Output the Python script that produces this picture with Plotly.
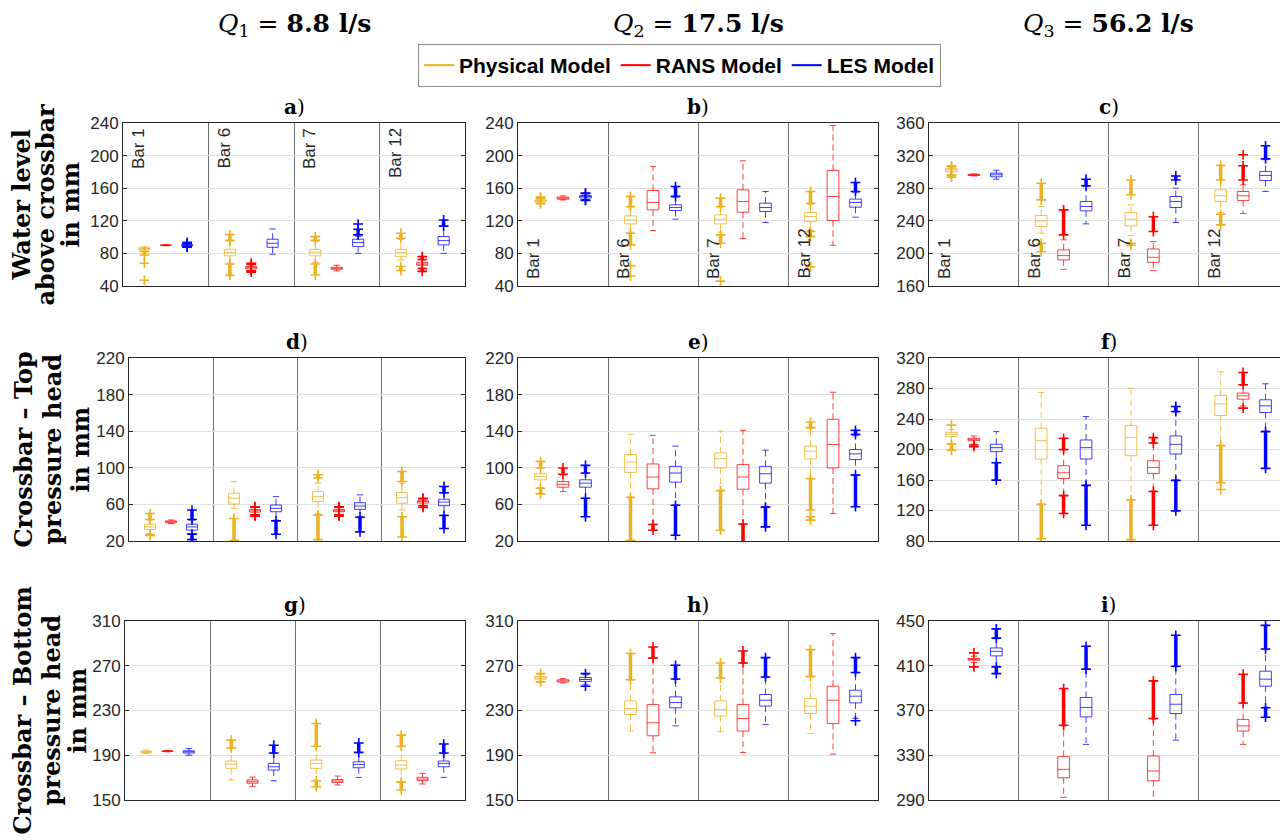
import plotly.graph_objects as go

W, H = 1288, 840          # browser window / reference picture
OFF = 8                   # page body margin: figure starts at (8, 8)
FW, FH = W - OFF, H - OFF  # figure size so it ends at the window edge

# ---------------- data ----------------
bar_labels = ["Bar 1", "Bar 6", "Bar 7", "Bar 12"]
model_names = ["Physical Model", "RANS Model", "LES Model"]
flow_labels = ["8.8 l/s", "17.5 l/s", "56.2 l/s"]
panel_letters = ["a", "b", "c", "d", "e", "f", "g", "h", "i"]
row_labels = [
    ["Water level", "above crossbar", "in mm"],
    ["Crossbar \u2013 Top", "pressure head", "in mm"],
    ["Crossbar \u2013 Bottom", "pressure head", "in mm"],
]
y_ranges = [[40, 240], [40, 240], [160, 360],
            [20, 220], [20, 220], [80, 320],
            [150, 310], [150, 310], [290, 450]]
y_tick_step = 40

# stats per bar: [lower whisker, q1, median, q3, upper whisker]
# outliers per bar: (start, end) ranges of dense outliers, (value,) single points
a_phys = [[83, 85, 86, 87, 88], [68, 77, 81, 85, 95], [69, 77, 81.4, 85, 95], [72, 76, 81, 85, 97]]
a_phys_out = [[(78, 82.5), (68,), (47,)], [(53, 67), (96, 103)], [(53.5, 67), (96, 100.6)], [(59, 64), (98.6, 104.8)]]
a_rans = [[89.3, 89.7, 90, 90.3, 90.7], [59, 61, 62.5, 64, 66], [58.5, 60.5, 61.7, 63, 65.5], [62, 65.5, 67, 69, 72]]
a_rans_out = [[], [(57, 58.5), (66.5, 68)], [], [(58, 61.5), (72.5, 76)]]
a_les = [[88.5, 89.3, 90, 90.7, 91.5], [79, 87.5, 92.5, 97.4, 110], [80, 88.4, 93.3, 97.4, 101], [80, 90.4, 95.7, 100.7, 113]]
a_les_out = [[(92, 93.5), (87.5, 88)], [], [(102.7, 109.7), (116,)], [(113.5, 121)]]

b_phys = [[142, 143.5, 144.5, 145.5, 147], [106, 116.2, 121, 126, 136], [106, 116.2, 122, 127.3, 136], [108, 119, 125.2, 130.2, 140]]
b_phys_out = [[(141, 141.5), (147.5, 149)], [(137.5, 150), (90.4, 104.8), (64.6,), (52.3,)], [(137.5, 147.8), (92.5, 102.7), (46,)], [(141.6, 156), (100.6, 106.8), (63.8,)]]
b_rans = [[145.5, 146.5, 147.8, 149, 150.5], [108, 133.4, 142.5, 157.2, 186.7], [98.2, 130.6, 143.7, 158, 193.7], [90, 120.3, 149.8, 181.8, 237]]
b_rans_out = [[], [], [], []]
b_les = [[146, 148, 149.8, 151, 153], [122, 132.6, 136.3, 139.6, 149], [117.9, 131.4, 136.3, 141.6, 156], [124.4, 136.7, 142.5, 146.6, 155]]
b_les_out = [[(153.5, 154), (145, 145.5)], [(150, 162)], [], [(156, 167)]]

c_phys = [[297, 300, 302.6, 304, 306], [224.8, 233, 240, 246.5, 257.5], [222, 233.8, 242, 250, 259.6], [250, 263.7, 270.7, 278, 290]]
c_phys_out = [[(293.6, 296), (306.5, 307.5)], [(265.7, 286), (202, 212.5)], [(272, 290), (210, 212.5)], [(290, 308), (235, 248)]]
c_rans = [[295, 295.6, 296.3, 297, 297.6], [180.5, 192, 197.3, 204.3, 216.6], [178.9, 189, 195.2, 205.5, 214.5], [249, 265, 270.7, 276, 284]]
c_rans_out = [[], [(222.7, 253.4)], [(226.8, 245)], [(290, 307.5), (321,)]]
c_les = [[291, 294, 296.5, 298.5, 302], [236.2, 252.2, 257.5, 263.7, 282], [237.9, 256.3, 263.7, 269.8, 280], [276, 289.5, 295.7, 300.6, 315]]
c_les_out = [[], [(283, 291)], [(290, 295)], [(316, 332)]]

d_phys = [[28, 32.5, 35.4, 38.4, 42.8], [55.7, 60.4, 66.7, 72.2, 85], [50, 63, 68.5, 74, 83.2], [53.8, 61.2, 67.4, 73, 83.2]]
d_phys_out = [[(43.5, 50), (26, 27)], [(20.7, 44.6)], [(88.8, 92.4), (21.5, 48.3)], [(85, 96), (24.4, 46.5)]]
d_rans = [[39, 40, 41, 42, 43], [49, 51.5, 53, 54.5, 56.5], [49, 52, 53, 54.5, 56.5], [59, 61.5, 63, 64, 66]]
d_rans_out = [[], [(47.2, 48.5), (57, 57.5)], [(47.2, 48.5), (57, 57.5)], [(56.8, 58.5), (66.2, 66.7)]]
d_les = [[28, 31.8, 35.4, 38.4, 42.8], [42.8, 52, 55.7, 59.3, 68.5], [46.5, 54.6, 58.2, 61.9, 70.4], [48.3, 58.6, 62.6, 65.6, 72.2]]
d_les_out = [[(43.5, 53.8), (21.5, 27.5)], [(27.4, 42)], [(30, 46)], [(72.8, 79.6), (33.6, 47.8)]]

e_phys = [[78.5, 86.9, 90.6, 93.5, 99], [68.5, 95, 106.4, 114.5, 136.5], [75.9, 99.8, 110, 116.3, 140.2], [88.8, 109.7, 118.2, 123.7, 143]]
e_phys_out = [[(99.8, 107), (71.5, 77.7)], [(20.7, 67.5)], [(31.8, 75)], [(143.9, 150), (53.8, 88), (42.8, 46.5)]]
e_rans = [[74, 78.8, 82, 85, 92], [38.4, 77, 89.9, 104.2, 135.4], [39, 76.6, 89.9, 103.5, 141], [50, 99.8, 125.5, 153, 182.5]]
e_rans_out = [[(93, 99.8)], [(31.8, 38)], [(18, 38.5)], []]
e_les = [[67, 78.8, 83.2, 86.9, 94], [59.3, 84.3, 94.3, 101.6, 123.7], [57.5, 83.2, 93.5, 101.6, 119.3], [92.4, 109, 115.2, 120, 135]]
e_les_out = [[(94.3, 102.7), (46.5, 66.7)], [(26.3, 59)], [(35.4, 57)], [(136.5, 141), (57.5, 92)]]

f_phys = [[208, 216.9, 220, 222.6, 226], [129, 187.5, 211.6, 227.9, 274.8], [134.4, 191.9, 216, 231.4, 280.5], [206, 244.5, 259.9, 270.9, 302]]
f_phys_out = [[(232,), (199, 207)], [(83, 128)], [(81.8, 134)], [(156.3, 205), (147.6,)]]
f_rans = [[207, 211.6, 213.4, 214.7, 217.8], [140, 162, 169.5, 178.7, 199.3], [145.8, 168.6, 176.5, 185.3, 208], [257, 266, 270.4, 274, 284]]
f_rans_out = [[(203.7, 206)], [(200, 214.7), (116, 139.5)], [(208.5, 215.6), (100.6, 145)], [(285, 301), (254.2,)]]
f_les = [[183, 197.2, 202.4, 206.8, 223.5], [153.3, 187.5, 202.4, 212.5, 243.2], [160, 194.1, 206.8, 217.8, 249], [224, 248.5, 257.3, 265.2, 286.2]]
f_les_out = [[(159.9, 182.7)], [(100.6, 153)], [(249.8, 256.4), (119.5, 159.5)], [(175.2, 223.5)]]

g_phys = [[191.5, 192.5, 193.1, 193.7, 194.6], [167.8, 178.3, 182.1, 184.8, 196], [167.8, 178.3, 182.7, 185.7, 197.6], [166.4, 177.7, 181.2, 185.1, 197.6]]
g_phys_out = [[], [(196.5, 203.5)], [(198, 218.4), (161.9, 167)], [(198, 208), (159, 166)]]
g_rans = [[193, 193.4, 193.7, 194, 194.3], [162, 165, 166.4, 168, 170.5], [163.4, 165.7, 167, 168.3, 171.4], [164.3, 167.3, 168.7, 170.3, 173.8]]
g_rans_out = [[], [], [], []]
g_les = [[190, 192, 193.1, 194, 196], [167.2, 176.8, 179.7, 182.7, 191.6], [170.2, 178.8, 181.8, 184.2, 192.2], [170.2, 179.7, 182.7, 184.8, 191.6]]
g_les_out = [[], [(192, 199)], [(192.6, 201)], [(192, 200)]]

h_phys = [[256, 258, 259.1, 260.5, 262.5], [211.6, 226.4, 231.8, 238.6, 257], [211, 225, 231, 238.6, 258.5], [209.5, 227.3, 233.9, 240.7, 260]]
h_phys_out = [[(255.6,), (263,)], [(257.5, 280.9)], [(259, 272.5)], [(260.5, 284.4)]]
h_rans = [[254.7, 255.5, 256.5, 257.5, 258.5], [192.2, 207.4, 219, 235.4, 276.4], [192.5, 211.6, 222.9, 235.4, 272], [191, 218.4, 239.2, 251.7, 298.7]]
h_rans_out = [[], [(276.8, 286.8)], [(272.5, 283.2)], []]
h_les = [[253, 256, 257.7, 259.5, 262], [216.3, 232.4, 237.1, 242.2, 257.7], [217.5, 233.9, 239.2, 244.3, 259.4], [223, 236.8, 242.8, 248.1, 263.6]]
h_les_out = [[(251.7,), (263,)], [(258.2, 270.4)], [(260, 277.3)], [(264, 277.3), (220.8,)]]

i_phys = [None, None, None, None]
i_phys_out = [[], [], [], []]
i_rans = [[413, 415, 415.8, 416.5, 418.5], [292.4, 309.9, 317.4, 328.7, 356.3], [289.4, 307.2, 315.9, 329.3, 362.3], [339.7, 351.6, 356.3, 362, 376.2]]
i_rans_out = [[(421.5,), (409,)], [(356.8, 389.6)], [(362.8, 396.5)], [(376.7, 402.4)]]
i_les = [[409.6, 418.8, 422.9, 425.9, 434.2], [339.7, 364.3, 372.7, 381.6, 406.6], [343.5, 367.3, 375.6, 384.3, 409], [373, 391.7, 398, 405.1, 424.4]]
i_les_out = [[(434.7, 443), (403, 409)], [(407, 427.4)], [(409.5, 437.2)], [(425, 446.1), (364, 372.5)]]

panels = [
    [(a_phys, a_phys_out), (a_rans, a_rans_out), (a_les, a_les_out)],
    [(b_phys, b_phys_out), (b_rans, b_rans_out), (b_les, b_les_out)],
    [(c_phys, c_phys_out), (c_rans, c_rans_out), (c_les, c_les_out)],
    [(d_phys, d_phys_out), (d_rans, d_rans_out), (d_les, d_les_out)],
    [(e_phys, e_phys_out), (e_rans, e_rans_out), (e_les, e_les_out)],
    [(f_phys, f_phys_out), (f_rans, f_rans_out), (f_les, f_les_out)],
    [(g_phys, g_phys_out), (g_rans, g_rans_out), (g_les, g_les_out)],
    [(h_phys, h_phys_out), (h_rans, h_rans_out), (h_les, h_les_out)],
    [(i_phys, i_phys_out), (i_rans, i_rans_out), (i_les, i_les_out)],
]

# ---------------- styling ----------------
colors = ["#EDB120", "#FF0000", "#0000FF"]
soft_colors = ["rgba(237,177,32,0.8)", "rgba(255,0,0,0.75)", "rgba(0,0,255,0.75)"]
offsets = [0.25, 0.5, 0.75]
box_width = 0.13
axis_color = "#262626"
tick_font = dict(family="Liberation Sans, Arial, sans-serif", size=17, color=axis_color)
serif = "DejaVu Serif, serif"


def fx(px):
    """picture x pixel -> paper fraction"""
    return min(max((px - OFF) / FW, 0.0), 1.0)


def fy(py):
    """picture y pixel -> paper fraction"""
    return min(max(1 - (py - OFF) / FH, 0.0), 1.0)


col_px = [
    [(123, 465), (518, 878), (929, 1288)],
    [(129, 465), (518, 878), (929, 1288)],
    [(125, 465), (518, 878), (929, 1288)],
]
row_px = [(123, 286), (358, 541), (621, 800)]
row_label_x = [(21, 45, 70), (23, 52, 80), (22, 51, 77)]

fig = go.Figure()
annotations = []
layout_axes = {}

for n in range(9):
    r, c = divmod(n, 3)
    idx = "" if n == 0 else str(n + 1)
    xname, yname = "x" + idx, "y" + idx
    x0, x1 = col_px[r][c]
    y0, y1 = row_px[r]
    lo, hi = y_ranges[n]

    layout_axes["xaxis" + idx] = dict(
        domain=[fx(x0), fx(x1)], anchor=yname, range=[0, 4],
        tickvals=[1, 2, 3], showticklabels=False, ticks="",
        showgrid=True, gridcolor="#707070", gridwidth=1,
        showline=True, linecolor=axis_color, linewidth=1, mirror=True,
        zeroline=False, fixedrange=True, automargin=False,
    )
    layout_axes["yaxis" + idx] = dict(
        domain=[fy(y1), fy(y0)], anchor=xname, range=[lo, hi],
        tickvals=list(range(lo, hi + 1, y_tick_step)), ticks="inside", ticklen=4,
        tickcolor=axis_color, tickfont=tick_font,
        showgrid=True, gridcolor="#e1e1e1", gridwidth=1,
        showline=True, linecolor=axis_color, linewidth=1, mirror="ticks",
        zeroline=False, fixedrange=True, automargin=False,
    )

    for m, (stats, outs) in enumerate(panels[n]):
        col = colors[m]
        soft = soft_colors[m]
        pos = [g + offsets[m] for g in range(4) if stats[g] is not None]
        st = [s for s in stats if s is not None]
        if not st:
            continue
        fig.add_trace(go.Box(
            x=pos, q1=[s[1] for s in st], median=[s[2] for s in st], q3=[s[3] for s in st],
            lowerfence=[s[1] for s in st], upperfence=[s[3] for s in st],
            orientation="v", width=box_width, whiskerwidth=0,
            line=dict(color=soft, width=1), fillcolor="rgba(0,0,0,0)",
            boxpoints=False, showlegend=False, hoverinfo="skip",
            xaxis=xname, yaxis=yname,
        ))
        # dashed whiskers
        wx, wy = [], []
        for p, s in zip(pos, st):
            wx += [p, p, None, p, p, None]
            wy += [s[3], s[4], None, s[1], s[0], None]
        fig.add_trace(go.Scatter(
            x=wx, y=wy, mode="lines", line=dict(color=soft, width=1, dash="6px,4px"),
            showlegend=False, hoverinfo="skip", xaxis=xname, yaxis=yname,
        ))
        # whisker caps
        fig.add_trace(go.Scatter(
            x=[p for p in pos for _ in (0, 1)],
            y=[v for s in st for v in (s[0], s[4])],
            mode="markers",
            marker=dict(symbol="line-ew", size=4.5, line=dict(color=soft, width=1)),
            showlegend=False, hoverinfo="skip", xaxis=xname, yaxis=yname,
        ))
        # outliers
        ox, oy = [], []
        for g in range(4):
            if stats[g] is None:
                continue
            p = g + offsets[m]
            for o in outs[g]:
                if len(o) == 2:
                    ox += [p, p, None]
                    oy += [o[0], o[1], None]
                else:
                    ox += [p, None]
                    oy += [o[0], None]
        if ox:
            fig.add_trace(go.Scatter(
                x=ox, y=oy, mode="lines+markers",
                line=dict(color=col, width=3.5),
                marker=dict(symbol="cross-thin", size=7, color=col, line=dict(color=col, width=1.6)),
                showlegend=False, hoverinfo="skip", xaxis=xname, yaxis=yname,
            ))

    # panel title a) b) ...
    annotations.append(dict(
        x=fx((x0 + x1) / 2), y=fy(y0 - 16), xref="paper", yref="paper",
        text="<b>%s</b>)" % panel_letters[n], showarrow=False,
        xanchor="center", yanchor="middle",
        font=dict(family=serif, size=20, color="black"),
    ))

    # Bar labels in the first row
    if r == 0:
        for g, lab in enumerate(bar_labels):
            if c == 0:
                annotations.append(dict(
                    x=g, y=1, xref=xname, yref=yname + " domain", text=lab,
                    showarrow=False, textangle=-90, xanchor="left", yanchor="top",
                    xshift=4, yshift=-3, font=tick_font,
                ))
            else:
                annotations.append(dict(
                    x=g, y=0, xref=xname, yref=yname + " domain", text=lab,
                    showarrow=False, textangle=-90, xanchor="left", yanchor="bottom",
                    xshift=4, yshift=5, font=tick_font,
                ))

# column titles
title_cx = [294, 698, 1108]
for c in range(3):
    annotations.append(dict(
        x=fx(title_cx[c]), y=fy(25), xref="paper", yref="paper",
        text="<i>Q</i><sub>%d</sub> = <b>%s</b>" % (c + 1, flow_labels[c]),
        showarrow=False, xanchor="center", yanchor="middle",
        font=dict(family=serif, size=25, color="black"),
    ))

# row labels
for r in range(3):
    yc = (row_px[r][0] + row_px[r][1]) / 2
    for k, line in enumerate(row_labels[r]):
        annotations.append(dict(
            x=fx(row_label_x[r][k]), y=fy(yc), xref="paper", yref="paper",
            text="<b>%s</b>" % line, showarrow=False, textangle=-90,
            xanchor="center", yanchor="middle",
            font=dict(family=serif, size=24, color="black"),
        ))

# legend entries
for m in range(3):
    fig.add_trace(go.Scatter(
        x=[None], y=[None], mode="lines", name=model_names[m],
        line=dict(color=colors[m], width=2), xaxis="x", yaxis="y",
    ))

fig.update_layout(
    width=FW, height=FH, autosize=False,
    margin=dict(l=0, r=0, t=0, b=0, pad=0, autoexpand=False),
    paper_bgcolor="white", plot_bgcolor="white",
    showlegend=True, boxmode="overlay",
    legend=dict(
        orientation="h", x=fx(418), y=fy(44), xanchor="left", yanchor="top",
        bordercolor="#8c8c8c", borderwidth=1, bgcolor="white",
        font=dict(family="Liberation Sans, Arial, sans-serif", size=21, color="black", weight="bold"),
        itemwidth=30, tracegroupgap=0,
    ),
    annotations=annotations,
    **layout_axes,
)

fig.write_html("out.html")
